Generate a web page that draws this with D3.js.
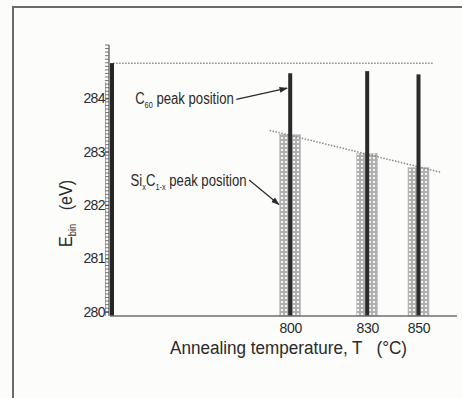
<!DOCTYPE html>
<html>
<head>
<meta charset="utf-8">
<script src="https://cdn.jsdelivr.net/npm/d3@7"></script>
<style>
  html, body { margin: 0; padding: 0; background: #fcfcfb; }
  svg { display: block; }
  text { font-family: "Liberation Sans", Arial, sans-serif; fill: #2a2a2a; }
</style>
</head>
<body>
<div id="chart"></div>
<script>
// annealing temperatures (°C) and peak positions (eV)
const temperatures = [800, 830, 850];
const c60Peak = [284.47, 284.51, 284.45];
const sicPeak = [283.32, 282.97, 282.70];
const c60Reference = 284.66;
const yTickValues = [280, 281, 282, 283, 284];
// dotted guide lines
const refLineT = [731, 856];
const trendT = [792, 859];
const trendE = [283.40, 282.61];

const width = 462, height = 398;
const svg = d3.select("#chart").append("svg")
    .attr("width", width)
    .attr("height", height);

const defs = svg.append("defs");
const pat = defs.append("pattern")
    .attr("id", "checker")
    .attr("width", 4).attr("height", 4)
    .attr("patternUnits", "userSpaceOnUse");
pat.append("rect").attr("width", 4).attr("height", 4).attr("fill", "#b0b0b0");
pat.append("rect").attr("x", 1).attr("y", 1).attr("width", 2).attr("height", 2).attr("fill", "#f4f4f4");

defs.append("marker")
    .attr("id", "arrow")
    .attr("viewBox", "0 0 10 10")
    .attr("refX", 9).attr("refY", 5)
    .attr("markerWidth", 7).attr("markerHeight", 7)
    .attr("orient", "auto")
    .append("path")
    .attr("d", "M0,1.5 L10,5 L0,8.5 Z")
    .attr("fill", "#2a2a2a");

// outer frame
svg.append("path")
    .attr("d", `M13,${height} L13,7 L${width},7`)
    .attr("fill", "none")
    .attr("stroke", "#6a6a6a")
    .attr("stroke-width", 2);

let xScale = d3.scaleLinear().domain([729, 865]).range([108, 457]);
let yScale = d3.scaleLinear().domain([279.92, 285.0]).range([316, 45]);
const yBase = yScale.domain()[0];

let chart = svg.append("g");

// dotted horizontal reference line (C60)
chart.append("line")
    .attr("x1", xScale(refLineT[0])).attr("x2", xScale(refLineT[1]))
    .attr("y1", yScale(c60Reference)).attr("y2", yScale(c60Reference))
    .attr("stroke", "#8a8a8a")
    .attr("stroke-width", 1.5)
    .attr("stroke-dasharray", "1.5,1.5");

// reference C60 bar at the axis
chart.append("rect")
    .attr("x", xScale(729) + 2)
    .attr("y", yScale(c60Reference))
    .attr("width", 4)
    .attr("height", yScale(yBase) - yScale(c60Reference))
    .attr("fill", "#262626");

// hatched SixC1-x bars
const barW = 21;
chart.selectAll(".sic")
    .data(d3.zip(temperatures, sicPeak))
    .enter()
    .append("rect")
    .attr("class", "sic")
    .attr("x", d => xScale(d[0]) - barW / 2)
    .attr("y", d => yScale(d[1]))
    .attr("width", barW)
    .attr("height", d => yScale(yBase) - yScale(d[1]))
    .attr("fill", "url(#checker)")
    .attr("stroke", "#bdbdbd")
    .attr("stroke-width", 0.6);

// trend line over SixC1-x peaks
chart.append("line")
    .attr("x1", xScale(trendT[0])).attr("y1", yScale(trendE[0]))
    .attr("x2", xScale(trendT[1])).attr("y2", yScale(trendE[1]))
    .attr("stroke", "#8a8a8a")
    .attr("stroke-width", 1.5)
    .attr("stroke-dasharray", "1.5,1.5");

// C60 bars
chart.selectAll(".c60")
    .data(d3.zip(temperatures, c60Peak))
    .enter()
    .append("rect")
    .attr("class", "c60")
    .attr("x", d => xScale(d[0]) - 2)
    .attr("y", d => yScale(d[1]))
    .attr("width", 4)
    .attr("height", d => yScale(yBase) - yScale(d[1]))
    .attr("fill", "#2b2b2b");

// x axis
let xAxis = d3.axisBottom(xScale).tickValues(temperatures).tickSize(0).tickPadding(7);
let gx = chart.append("g")
    .attr("transform", `translate(0, ${yScale(yBase)})`)
    .call(xAxis);
gx.select(".domain").attr("stroke", "#707070").attr("stroke-width", 1.5)
    .attr("d", `M${xScale(729) + 2},0H${xScale(865)}`);
gx.selectAll("text").attr("font-size", 14).attr("fill", "#2a2a2a")
    .attr("letter-spacing", -0.3)
    .style("font-family", "Liberation Sans, Arial, sans-serif");

// y axis with dense ladder of minor ticks
let minor = d3.range(0, 76).map(i => 280 + i / 15);
let gMinor = chart.append("g");
gMinor.selectAll("line")
    .data(minor.filter(v => v <= 285))
    .enter()
    .append("line")
    .attr("x1", xScale(729) - 3).attr("x2", xScale(729) + 1)
    .attr("y1", d => yScale(d)).attr("y2", d => yScale(d))
    .attr("stroke", "#666")
    .attr("stroke-width", 0.9);
gMinor.append("line")
    .attr("x1", xScale(729) - 2.5).attr("x2", xScale(729) - 2.5)
    .attr("y1", yScale(yBase)).attr("y2", yScale(284.3))
    .attr("stroke", "#888").attr("stroke-width", 0.8);

let yAxis = d3.axisLeft(yScale).tickValues(yTickValues).tickSize(4).tickPadding(0)
    .tickFormat(d3.format("d"));
let gy = chart.append("g")
    .attr("transform", `translate(${xScale(729) + 1}, 0)`)
    .call(yAxis);
gy.select(".domain").attr("stroke", "#555").attr("stroke-width", 1.2)
    .attr("d", `M0,${yScale(yBase)}V${yScale(285.0)}`);
gy.selectAll(".tick line").attr("stroke", "#444");
gy.selectAll("text").attr("font-size", 14).attr("fill", "#2a2a2a")
    .attr("letter-spacing", -0.6)
    .style("font-family", "Liberation Sans, Arial, sans-serif");

// axis titles (horizontally condensed like the original narrow face)
svg.append("g")
    .attr("transform", "translate(288.5, 354) scale(0.9, 1)")
    .append("text")
    .attr("text-anchor", "middle")
    .attr("font-size", 19)
    .style("white-space", "pre")
    .text("Annealing temperature, T   (°C)");

let yl = svg.append("g")
    .attr("transform", "translate(72, 247) rotate(-90) scale(0.85, 1)")
    .append("text")
    .attr("text-anchor", "start")
    .attr("font-size", 19)
    .style("white-space", "pre");
yl.append("tspan").text("E");
yl.append("tspan").attr("font-size", 11).attr("dy", 4).text("bin");
yl.append("tspan").attr("dy", -4).text("   (eV)");

// annotations
let c60Label = svg.append("g")
    .attr("transform", `translate(${xScale(778)}, ${yScale(283.98) + 5}) scale(0.82, 1)`)
    .append("text")
    .attr("text-anchor", "end")
    .attr("font-size", 16);
c60Label.append("tspan").text("C");
c60Label.append("tspan").attr("font-size", 9).attr("dy", 4).text("60");
c60Label.append("tspan").attr("dy", -4).text(" peak position");

svg.append("line")
    .attr("x1", xScale(779)).attr("y1", yScale(283.98))
    .attr("x2", xScale(798.8)).attr("y2", yScale(284.19))
    .attr("stroke", "#2a2a2a").attr("stroke-width", 1.2)
    .attr("marker-end", "url(#arrow)");

let sicLabel = svg.append("g")
    .attr("transform", `translate(${xScale(783)}, ${yScale(282.46) + 5}) scale(0.82, 1)`)
    .append("text")
    .attr("text-anchor", "end")
    .attr("font-size", 16);
sicLabel.append("tspan").text("Si");
sicLabel.append("tspan").attr("font-size", 9).attr("dy", 4).text("x");
sicLabel.append("tspan").attr("dy", -4).text("C");
sicLabel.append("tspan").attr("font-size", 9).attr("dy", 4).text("1-x");
sicLabel.append("tspan").attr("dy", -4).text(" peak position");

svg.append("line")
    .attr("x1", xScale(784)).attr("y1", yScale(282.47))
    .attr("x2", xScale(795.6)).attr("y2", yScale(282.01))
    .attr("stroke", "#2a2a2a").attr("stroke-width", 1.2)
    .attr("marker-end", "url(#arrow)");
</script>
</body>
</html>
